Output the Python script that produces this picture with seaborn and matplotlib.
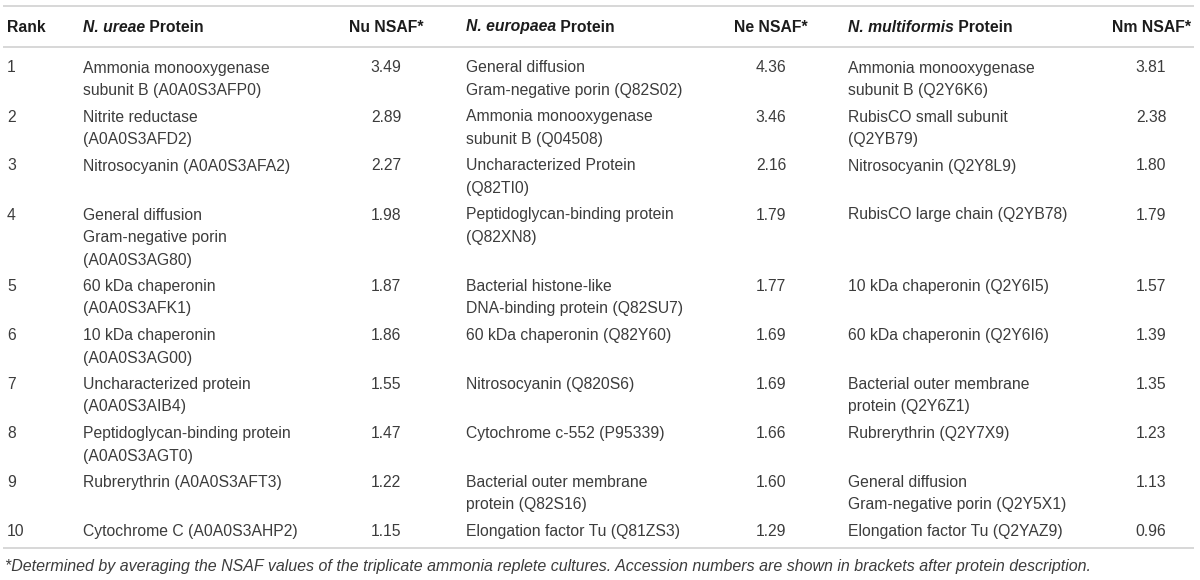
import matplotlib
matplotlib.use("Agg")
import matplotlib.pyplot as plt
import seaborn as sns

# Datos de la tabla
ranks = [1, 2, 3, 4, 5, 6, 7, 8, 9, 10]

nu_protein = [
    "Ammonia monooxygenase\nsubunit B (A0A0S3AFP0)",
    "Nitrite reductase\n(A0A0S3AFD2)",
    "Nitrosocyanin (A0A0S3AFA2)",
    "General diffusion\nGram-negative porin\n(A0A0S3AG80)",
    "60 kDa chaperonin\n(A0A0S3AFK1)",
    "10 kDa chaperonin\n(A0A0S3AG00)",
    "Uncharacterized protein\n(A0A0S3AIB4)",
    "Peptidoglycan-binding protein\n(A0A0S3AGT0)",
    "Rubrerythrin (A0A0S3AFT3)",
    "Cytochrome C (A0A0S3AHP2)",
]
nu_nsaf = [3.49, 2.89, 2.27, 1.98, 1.87, 1.86, 1.55, 1.47, 1.22, 1.15]

ne_protein = [
    "General diffusion\nGram-negative porin (Q82S02)",
    "Ammonia monooxygenase\nsubunit B (Q04508)",
    "Uncharacterized Protein\n(Q82TI0)",
    "Peptidoglycan-binding protein\n(Q82XN8)",
    "Bacterial histone-like\nDNA-binding protein (Q82SU7)",
    "60 kDa chaperonin (Q82Y60)",
    "Nitrosocyanin (Q820S6)",
    "Cytochrome c-552 (P95339)",
    "Bacterial outer membrane\nprotein (Q82S16)",
    "Elongation factor Tu (Q81ZS3)",
]
ne_nsaf = [4.36, 3.46, 2.16, 1.79, 1.77, 1.69, 1.69, 1.66, 1.60, 1.29]

nm_protein = [
    "Ammonia monooxygenase\nsubunit B (Q2Y6K6)",
    "RubisCO small subunit\n(Q2YB79)",
    "Nitrosocyanin (Q2Y8L9)",
    "RubisCO large chain (Q2YB78)",
    "10 kDa chaperonin (Q2Y6I5)",
    "60 kDa chaperonin (Q2Y6I6)",
    "Bacterial outer membrane\nprotein (Q2Y6Z1)",
    "Rubrerythrin (Q2Y7X9)",
    "General diffusion\nGram-negative porin (Q2Y5X1)",
    "Elongation factor Tu (Q2YAZ9)",
]
nm_nsaf = [3.81, 2.38, 1.80, 1.79, 1.57, 1.39, 1.35, 1.23, 1.13, 0.96]

species = ["N. ureae", "N. europaea", "N. multiformis"]
value_headers = ["Nu NSAF*", "Ne NSAF*", "Nm NSAF*"]
footnote = ("*Determined by averaging the NSAF values of the triplicate ammonia "
            "replete cultures. Accession numbers are shown in brackets after "
            "protein description.")

# Estilo
sns.set_theme(style="white")
plt.rcParams['font.family'] = ['Liberation Sans', 'DejaVu Sans']

body_size = 11.3
body_color = "#3c3c3c"
head_color = "#1c1c1c"
rule_color = "#d4d4d4"
line_step = 22.5
row_pad = 4

# Columnas (x en píxeles)
rank_x = 7
protein_x = [83, 466, 848]
value_cx = [386, 771, 1151]

fig = plt.figure(figsize=(12, 5.8), dpi=100)
ax = fig.add_axes([0, 0, 1, 1])
ax.set_xlim(0, 1200)
ax.set_ylim(580, 0)
ax.axis("off")


def put(x, y, s, **kw):
    # y es el centro de la línea de mayúsculas
    return ax.text(x, y + 5.5, s, va="baseline", fontsize=kw.pop("size", body_size),
                   color=kw.pop("color", body_color), **kw)


# Líneas horizontales
ax.hlines([6, 47, 548], 3, 1194, color=rule_color, linewidth=1.3)

# Encabezado
header_y = 26
put(rank_x, header_y, "Rank", fontweight="bold", color=head_color)
renderer = fig.canvas.get_renderer()
for sp, px, vh, cx in zip(species, protein_x, value_headers, value_cx):
    t = put(px, header_y, sp, fontweight="bold", fontstyle="italic", color=head_color)
    bb = t.get_window_extent(renderer=renderer).transformed(ax.transData.inverted())
    put(bb.x1, header_y, " Protein", fontweight="bold", color=head_color)
    put(cx, header_y, vh, fontweight="bold", color=head_color, ha="center")

# Filas
columns = [(nu_protein, nu_nsaf), (ne_protein, ne_nsaf), (nm_protein, nm_nsaf)]
y = 67
for i, rank in enumerate(ranks):
    put(rank_x, y, str(rank))
    n_lines = 1
    for (prots, vals), px, cx in zip(columns, protein_x, value_cx):
        lines = prots[i].split("\n")
        n_lines = max(n_lines, len(lines))
        for k, ln in enumerate(lines):
            put(px, y + k * line_step, ln)
        put(cx, y, f"{vals[i]:.2f}", ha="center")
    y += n_lines * line_step + row_pad

# Nota al pie
put(5, 565, footnote, fontstyle="italic", size=11.55)

fig.savefig("out.png", dpi=100)
